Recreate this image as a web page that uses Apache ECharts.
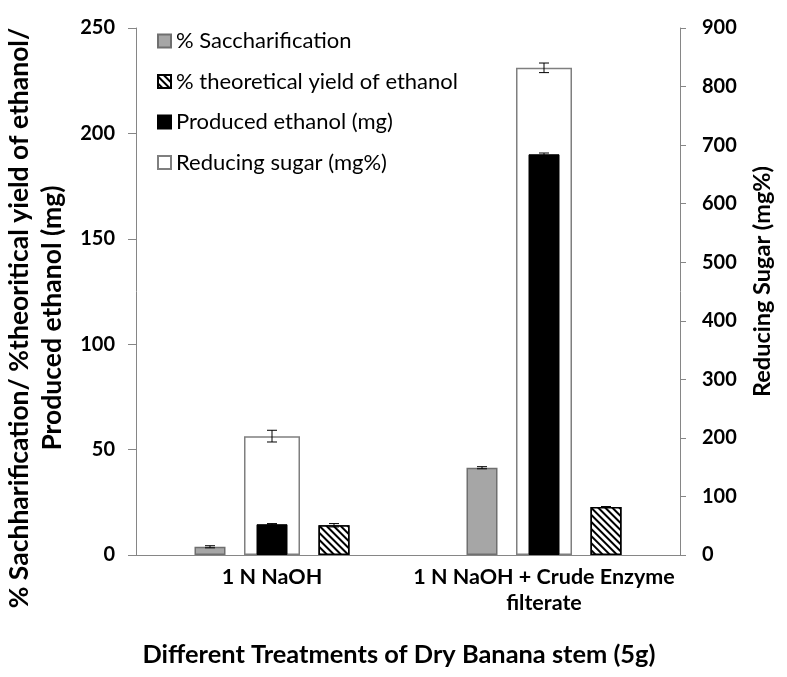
<!DOCTYPE html>
<html><head><meta charset="utf-8">
<script src="https://cdn.jsdelivr.net/npm/echarts@6/dist/echarts.min.js"></script>
<style>html,body{margin:0;padding:0;background:#fff}#c{width:787px;height:677px}</style>
</head><body><div id="c"></div>
<script>
const categories = ['1 N NaOH', '1 N NaOH + Crude Enzyme\nfilterate'];
const saccharification = [3.9, 41.4];
const saccharificationErr = [0.5, 0.5];
const theoreticalYield = [14.1, 22.8];
const theoreticalYieldErr = [0.8, 0.2];
const producedEthanol = [14.6, 190.1];
const producedEthanolErr = [0.3, 0.6];
const reducingSugar = [203, 832];
const reducingSugarErr = [10, 8.2];
const leftAxis = {min: 0, max: 250, interval: 50};
const rightAxis = {min: 0, max: 900, interval: 100};

const FONT = 'Lato';
const BAR_W = 31;

function errSeries(vals, errs, slot, xIdx, yIdx) {
  return {
    type: 'custom', xAxisIndex: xIdx, yAxisIndex: yIdx, z: 10, silent: true,
    encode: {x: 0, y: [1, 2]},
    data: vals.map((v, i) => [i, v - errs[i], v + errs[i]]),
    renderItem: (params, api) => {
      const c = api.value(0);
      const lo = api.coord([c, api.value(1)]);
      const hi = api.coord([c, api.value(2)]);
      const x = lo[0] + slot * BAR_W * 2;
      const hw = 5;
      const st = {stroke: '#000', lineWidth: 1};
      return {type: 'group', children: [
        {type: 'line', shape: {x1: x, y1: lo[1], x2: x, y2: hi[1]}, style: st},
        {type: 'line', shape: {x1: x - hw, y1: lo[1], x2: x + hw, y2: lo[1]}, style: st},
        {type: 'line', shape: {x1: x - hw, y1: hi[1], x2: x + hw, y2: hi[1]}, style: st}
      ]};
    }
  };
}

const chart = echarts.init(document.getElementById('c'), null, {renderer: 'canvas'});
chart.setOption({
  animation: false,
  backgroundColor: '#fff',
  grid: {left: 136, right: 107, top: 28, bottom: 122, containLabel: false, outerBoundsMode: 'none'},
  legend: {
    orient: 'vertical', left: 157, top: 30, itemWidth: 13, itemHeight: 13, itemGap: 18.5,
    padding: 0, icon: 'rect',
    textStyle: {fontFamily: FONT, fontSize: 22, lineHeight: 22, color: '#000'},
    data: ['% Saccharification', '% theoretical yield of ethanol', 'Produced ethanol (mg)', 'Reducing sugar (mg%)']
  },
  xAxis: [{
    type: 'category', data: categories,
    axisLine: {lineStyle: {color: '#868686', width: 1}},
    axisTick: {show: false},
    axisLabel: {interval: 0, fontFamily: FONT, fontWeight: 'bold', fontSize: 21.5, color: '#000', margin: 9, lineHeight: 26},
    name: 'Different Treatments of Dry Banana stem (5g)', nameLocation: 'middle', nameGap: 87,
    nameTextStyle: {fontFamily: FONT, fontWeight: 'bold', fontSize: 25.4, color: '#000', padding: [0, 18, 0, 0]}
  }, {
    type: 'category', data: categories, show: false
  }],
  yAxis: [{
    type: 'value', min: leftAxis.min, max: leftAxis.max, interval: leftAxis.interval,
    axisLine: {show: true, lineStyle: {color: '#868686'}},
    axisTick: {show: true, length: 8, lineStyle: {color: '#868686'}},
    splitLine: {show: false},
    axisLabel: {fontFamily: FONT, fontWeight: 'bold', fontSize: 20, color: '#000', margin: 21},
    name: '% Sachharification/ %theoritical yield of ethanol/\nProduced ethanol (mg)',
    nameLocation: 'middle', nameGap: 61, nameRotate: 90,
    nameTextStyle: {fontFamily: FONT, fontWeight: 'bold', fontSize: 26.5, color: '#000', lineHeight: 33, padding: [0, 53, 0, 0]}
  }, {
    type: 'value', position: 'right', min: rightAxis.min, max: rightAxis.max, interval: rightAxis.interval,
    axisLine: {show: true, lineStyle: {color: '#868686'}},
    axisTick: {show: true, length: 6, lineStyle: {color: '#868686'}},
    splitLine: {show: false},
    axisLabel: {fontFamily: FONT, fontWeight: 'bold', fontSize: 20, color: '#000', margin: 22},
    name: 'Reducing Sugar (mg%)', nameLocation: 'middle', nameGap: 70, nameRotate: 90,
    nameTextStyle: {fontFamily: FONT, fontWeight: 'bold', fontSize: 23.5, color: '#000', padding: [0, 0, 0, 20]}
  }],
  series: [
    {name: 'Reducing sugar (mg%)', type: 'bar', xAxisIndex: 1, yAxisIndex: 1, barWidth: 56,
     data: reducingSugar, itemStyle: {color: '#fff', borderColor: '#7f7f7f', borderWidth: 1.5}},
    {name: '% Saccharification', type: 'bar', xAxisIndex: 0, yAxisIndex: 0, barWidth: BAR_W, barGap: '100%',
     data: saccharification, itemStyle: {color: '#a6a6a6', borderColor: '#6f6f6f', borderWidth: 1.5}},
    {name: 'Produced ethanol (mg)', type: 'bar', xAxisIndex: 0, yAxisIndex: 0, barWidth: BAR_W, barGap: '100%',
     data: producedEthanol, itemStyle: {color: '#000', borderColor: '#000', borderWidth: 1}},
    {name: '% theoretical yield of ethanol', type: 'bar', xAxisIndex: 0, yAxisIndex: 0, barWidth: BAR_W, barGap: '100%',
     data: theoreticalYield, itemStyle: {color: '#fff', borderColor: '#000', borderWidth: 1.5,
       decal: {symbol: 'rect', symbolSize: 1, dashArrayX: [1, 0], dashArrayY: [2, 3], rotation: Math.PI / 4, color: '#000', backgroundColor: '#fff'}}},
    errSeries(reducingSugar, reducingSugarErr, 0, 1, 1),
    errSeries(saccharification, saccharificationErr, -1, 0, 0),
    errSeries(producedEthanol, producedEthanolErr, 0, 0, 0),
    errSeries(theoreticalYield, theoreticalYieldErr, 1, 0, 0)
  ]
});
</script></body></html>
